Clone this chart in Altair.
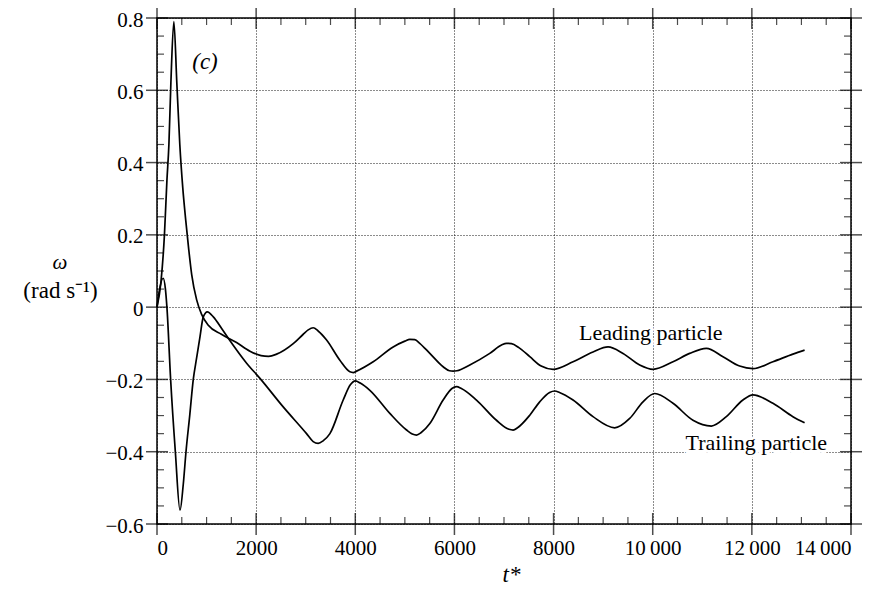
import altair as alt
import pandas as pd

# ---- data ----
t_lead = [0, 80, 150, 200, 240, 280, 340, 400, 460, 520, 580, 640, 700, 800, 900,
          1035, 1300, 1605, 1875, 2100, 2250, 2413, 2748, 2950, 3050, 3151, 3250, 3421,
          3689, 3891, 3960, 4026, 4361, 4764, 5000, 5100, 5200, 5300, 5504, 5772, 5900,
          5974, 6050, 6310, 6713, 6950, 7050, 7150, 7300, 7520, 7750, 7990, 8393, 8796,
          9099, 9401, 9737, 10006, 10409, 10745, 11082, 11417, 11753, 12022, 12425,
          12828, 13064]
w_lead = [0.0, 0.07, 0.2, 0.35, 0.45, 0.62, 0.79, 0.62, 0.45, 0.33, 0.24, 0.16, 0.09,
          0.02, -0.02, -0.05, -0.075, -0.098, -0.122, -0.134, -0.136, -0.130, -0.101,
          -0.075, -0.063, -0.057, -0.066, -0.091, -0.147, -0.179, -0.181, -0.177,
          -0.151, -0.110, -0.094, -0.089, -0.090, -0.100, -0.128, -0.165, -0.176,
          -0.177, -0.176, -0.160, -0.128, -0.105, -0.100, -0.101, -0.112, -0.137,
          -0.163, -0.172, -0.151, -0.124, -0.110, -0.128, -0.160, -0.172, -0.151,
          -0.128, -0.114, -0.137, -0.163, -0.170, -0.151, -0.130, -0.119]

t_trail = [0, 40, 125, 170, 200, 275, 370, 464, 530, 585, 660, 732, 800, 867, 934,
           1015, 1136, 1304, 1438, 1808, 2077, 2546, 3017, 3150, 3252, 3350, 3488, 3756,
           3900, 4000, 4100, 4294, 4697, 5034, 5150, 5235, 5330, 5504, 5772, 5950, 6042,
           6140, 6445, 6848, 7100, 7183, 7280, 7520, 7720, 7920, 8024, 8120, 8393, 8796,
           9233, 9536, 9804, 10040, 10409, 10812, 11183, 11485, 11820, 12022, 12425,
           12828, 13064]
w_trail = [0.0, 0.04, 0.08, 0.05, 0.0, -0.2, -0.4, -0.562, -0.49, -0.4, -0.3, -0.2,
           -0.14, -0.082, -0.027, -0.013, -0.027, -0.059, -0.086, -0.155, -0.197,
           -0.276, -0.350, -0.372, -0.377, -0.370, -0.350, -0.257, -0.215, -0.204,
           -0.210, -0.230, -0.294, -0.340, -0.351, -0.354, -0.347, -0.322, -0.257,
           -0.225, -0.220, -0.225, -0.257, -0.313, -0.338, -0.340, -0.333, -0.299,
           -0.262, -0.236, -0.232, -0.236, -0.257, -0.303, -0.334, -0.308, -0.262,
           -0.239, -0.266, -0.313, -0.329, -0.303, -0.257, -0.243, -0.266, -0.303,
           -0.320]

x_major = [0, 2000, 4000, 6000, 8000, 10000, 12000, 14000]
x_minor = [500, 1000, 1500, 2500, 3000, 3500, 4500, 5000, 5500, 6500, 7000, 7500,
           8500, 9000, 9500, 10500, 11000, 11500, 12500, 13000, 13500]
y_major = [-0.6, -0.4, -0.2, 0.0, 0.2, 0.4, 0.6, 0.8]
y_minor = [-0.55, -0.5, -0.45, -0.35, -0.3, -0.25, -0.15, -0.1, -0.05, 0.05, 0.1,
           0.15, 0.25, 0.3, 0.35, 0.45, 0.5, 0.55, 0.65, 0.7, 0.75]

label_text = ["Leading particle", "Trailing particle"]
label_t = [9960, 12090]
label_w = [-0.092, -0.396]

X_MIN, X_MAX = 0, 14000
Y_MIN, Y_MAX = -0.6, 0.8

# ---- tables ----
df = pd.concat([
    pd.DataFrame({"t": t_lead, "w": w_lead, "series": "Leading particle"}),
    pd.DataFrame({"t": t_trail, "w": w_trail, "series": "Trailing particle"}),
])
df_xmaj = pd.DataFrame({"t": x_major * 2, "w": [Y_MIN] * len(x_major) + [Y_MAX] * len(x_major)})
df_ymaj = pd.DataFrame({"t": [X_MIN] * len(y_major) + [X_MAX] * len(y_major), "w": y_major * 2})
df_xmin_b = pd.DataFrame({"t": x_minor, "w": [Y_MIN] * len(x_minor)})
df_xmin_t = pd.DataFrame({"t": x_minor, "w": [Y_MAX] * len(x_minor)})
df_ymin_l = pd.DataFrame({"t": [X_MIN] * len(y_minor), "w": y_minor})
df_ymin_r = pd.DataFrame({"t": [X_MAX] * len(y_minor), "w": y_minor})
df_lab = pd.DataFrame({"t": label_t, "w": label_w, "text": label_text})
df_c = pd.DataFrame({"t": [968], "w": [0.678], "text": ["(c)"]})

FONT = "Liberation Serif"

xscale = alt.Scale(domain=[X_MIN, X_MAX], nice=False, zero=False)
yscale = alt.Scale(domain=[Y_MIN, Y_MAX], nice=False, zero=False)

xaxis = alt.Axis(
    values=x_major, title="t*", titleFontStyle="italic", titleFontSize=23,
    titleFontWeight="normal", titleFont=FONT, titlePadding=5, titleX=354,
    labelFont=FONT, labelFontSize=21, labelColor="black",
    labelExpr="datum.value >= 10000 ? floor(datum.value/1000) + '\u2009000' : format(datum.value, 'd')",
    labelPadding=13, grid=True,
)
yaxis = alt.Axis(
    values=y_major, title="(rad s\u207b\u00b9)", titleAngle=0, titleX=-97, titleY=272,
    titleAlign="center", titleBaseline="middle", titleFontSize=23, titleFont=FONT,
    titleFontWeight="normal",
    labelFont=FONT, labelFontSize=21, labelColor="black", labelOffset=2,
    labelExpr="datum.value < -0.0001 ? '\u2212' + format(-datum.value, '.1f') : (abs(datum.value) < 0.0001 ? '0' : format(datum.value, '.1f'))",
    labelPadding=14, grid=True,
)

X = alt.X("t:Q", scale=xscale, axis=xaxis)
Y = alt.Y("w:Q", scale=yscale, axis=yaxis)

lines = alt.Chart(df).mark_line(color="black", strokeWidth=1.7, interpolate="monotone").encode(
    x=X, y=Y, detail="series:N"
)
xmaj = alt.Chart(df_xmaj).mark_tick(orient="vertical", size=22, thickness=1.5, color="black").encode(x=X, y=Y)
ymaj = alt.Chart(df_ymaj).mark_tick(orient="horizontal", size=22, thickness=1.5, color="black").encode(x=X, y=Y)
xmin_b = alt.Chart(df_xmin_b).mark_tick(orient="vertical", size=7, yOffset=-3.5, thickness=1.2, color="black").encode(x=X, y=Y)
xmin_t = alt.Chart(df_xmin_t).mark_tick(orient="vertical", size=7, yOffset=3.5, thickness=1.2, color="black").encode(x=X, y=Y)
ymin_l = alt.Chart(df_ymin_l).mark_tick(orient="horizontal", size=7, xOffset=3.5, thickness=1.2, color="black").encode(x=X, y=Y)
ymin_r = alt.Chart(df_ymin_r).mark_tick(orient="horizontal", size=7, xOffset=-3.5, thickness=1.2, color="black").encode(x=X, y=Y)

halo = alt.Chart(df_lab).mark_text(font=FONT, fontSize=22, color="white", stroke="white",
                                    strokeWidth=6, baseline="alphabetic").encode(x=X, y=Y, text="text:N")
labels = alt.Chart(df_lab).mark_text(font=FONT, fontSize=22, color="black",
                                      baseline="alphabetic").encode(x=X, y=Y, text="text:N")
clabel = alt.Chart(df_c).mark_text(font=FONT, fontSize=23, fontStyle="italic", color="black",
                                    baseline="middle").encode(x=X, y=Y, text="text:N")
omega = alt.Chart(df_c).mark_text(font=FONT, fontSize=21, fontStyle="italic", color="black",
                                   baseline="middle").encode(x=alt.value(-97), y=alt.value(245),
                                                             text=alt.value("\u03c9"))

chart = alt.layer(
    lines, xmaj, ymaj, xmin_b, xmin_t, ymin_l, ymin_r, halo, labels, clabel, omega
).properties(
    width=694, height=506,
    autosize=alt.AutoSizeParams(type="none"),
    padding={"left": 149, "top": 10, "right": 18, "bottom": 61},
    background="white",
).configure(
    font=FONT
).configure_view(
    stroke="black", strokeWidth=1.5
).configure_axis(
    labelFont=FONT, labelColor="black", titleFont=FONT,
    ticks=False, tickSize=0, domain=False,
    gridColor="black", gridDash=[1, 2], gridWidth=1, gridOpacity=0.9,
    titleColor="black",
)

chart.save("out.html", embed_options={"renderer": "svg", "actions": False})
